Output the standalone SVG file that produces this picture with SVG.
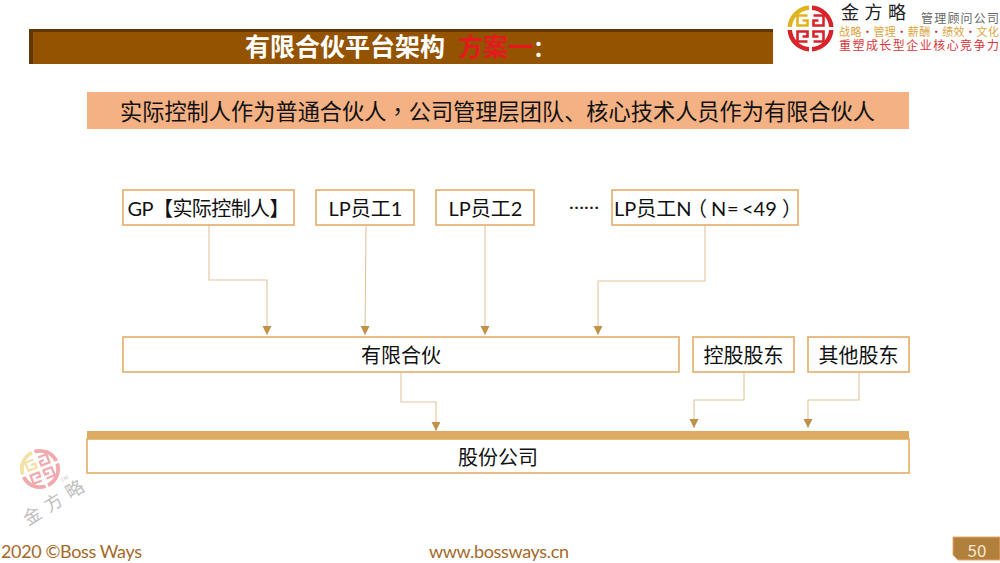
<svg xmlns="http://www.w3.org/2000/svg" width="1000" height="563" viewBox="0 0 1000 563">
<style>
text{font-family:"Noto Sans CJK SC","Noto Sans",sans-serif;}
.n{fill:#fff;stroke:#e5b26f;stroke-width:1.7;}
.t{font-family:Lato,"Noto Sans CJK SC",sans-serif;font-size:20px;fill:#111;text-anchor:middle;}
.s{font-family:Lato,"Noto Sans CJK SC",sans-serif;font-size:20px;fill:#111;}
.tc{font-family:"Noto Sans CJK TC",sans-serif;}
.c{fill:none;stroke:#e3c49c;stroke-width:1.1;marker-end:url(#a);}
.foot{font-family:Lato,"Noto Sans",sans-serif;font-size:18px;fill:#a5682a;}
.red{fill:none;stroke:#d8232a;stroke-width:2.600;}
.yel{fill:none;stroke:#e0b21e;stroke-width:2.600;}
.b{fill:#d8232a;}
</style>
<defs>
<marker id="a" markerUnits="userSpaceOnUse" markerWidth="10" markerHeight="10" refX="9" refY="4.500" orient="auto"><path d="M0 0L9 4.500L0 9Z" fill="#c0914b"/></marker>
<g id="logo">
<path d="M-23 -1.500A23 23 0 0 1 -1.500 -23V-18.500A18.500 18.500 0 0 0 -18.500 -1.500Z" fill="#e0b21e"/>
<path d="M1.500 -23A23 23 0 0 1 23 -1.500H18.500A18.500 18.500 0 0 0 1.500 -18.500ZM23 1.500A23 23 0 0 1 1.500 23V18.500A18.500 18.500 0 0 0 18.500 1.500ZM-1.500 23A23 23 0 0 1 -23 1.500H-18.500A18.500 18.500 0 0 0 -1.500 18.500Z" fill="#d8232a"/>
<path class="yel" d="M-3 -13H-13V-3H-3V-8H-8"/>
<path class="red" d="M3 -13H13V-3H3V-8H8M3 13H13V3H3V8H8M-3 13H-13V3H-3V8H-8"/>
</g>
</defs>

<g id="title">
<rect x="29" y="29" width="744" height="35" fill="#935300"/>
<path d="M29 29H773V32H33V64H29Z" fill="#5f3700"/>
<text x="245" y="56" font-size="25" font-weight="700" fill="#fff">有限合伙平台架构</text>
<text x="458" y="56" font-size="25" font-weight="700" fill="#e3191f">方案一</text>
<text x="533" y="56" font-size="22" font-weight="700" fill="#fff">：</text>
</g>

<g id="brand">
<use href="#logo" x="810.500" y="28.500"/>
<text x="841" y="19" font-size="18" fill="#222" textLength="65">金方略</text>
<text x="921" y="23" font-size="12" fill="#666" textLength="78">管理顾问公司</text>
<text x="839" y="36" font-size="11" fill="#d9a441" textLength="160">战略<tspan class="b">•</tspan>管理<tspan class="b">•</tspan>薪酬<tspan class="b">•</tspan>绩效<tspan class="b">•</tspan>文化</text>
<text x="839" y="50" font-size="12" fill="#d8363a" textLength="160">重塑成长型企业核心竞争力</text>
</g>

<g id="subtitle">
<rect x="87" y="92" width="822" height="37" fill="#f4b183"/>
<text x="120" y="120" font-size="22.200" fill="#111" textLength="755">实际控制人作为普通合伙人<tspan class="tc">，</tspan>公司管理层团队、核心技术人员作为有限合伙人</text>
</g>

<g id="connectors">
<path class="c" d="M209 225V280H267V335"/>
<path class="c" d="M366 225L365 335"/>
<path class="c" d="M485 225V335"/>
<path class="c" d="M705 225V281H598V335"/>
<path class="c" d="M401 372V402H436V431"/>
<path class="c" d="M744 372V400H694V428"/>
<path class="c" d="M859 372V400H808V428"/>
</g>

<g id="gp"><rect class="n" x="123" y="190" width="171" height="35"/><text class="t" x="208.500" y="216" textLength="162">GP【实际控制人】</text></g>
<g id="lp1"><rect class="n" x="316" y="190" width="98" height="35"/><text class="t" x="365.500" y="216">LP员工1</text></g>
<g id="lp2"><rect class="n" x="436" y="190" width="98" height="35"/><text class="t" x="485.500" y="216">LP员工2</text></g>
<g id="dots"><text class="t" x="584" y="209">……</text></g>
<g id="lpn"><rect class="n" x="612" y="190" width="186" height="35"/><text class="s" y="216"><tspan x="614">LP员工N</tspan><tspan class="tc" x="687">（</tspan><tspan x="711">N</tspan><tspan x="727">=</tspan><tspan x="742">&lt;49</tspan><tspan class="tc" x="782">）</tspan></text></g>
<g id="partnership"><rect class="n" x="123" y="337" width="556" height="35"/><text class="t" x="401" y="363">有限合伙</text></g>
<g id="holder"><rect class="n" x="693" y="337" width="101" height="35"/><text class="t" x="743.500" y="363">控股股东</text></g>
<g id="others"><rect class="n" x="808" y="337" width="101" height="35"/><text class="t" x="858.500" y="363">其他股东</text></g>
<g id="company">
<rect class="n" x="87" y="439" width="822" height="34"/>
<rect x="87" y="431" width="822" height="8" fill="#deab62"/>
<text class="t" x="498" y="465">股份公司</text>
</g>

<g id="watermark" opacity="0.38">
<use href="#logo" transform="translate(40 469) rotate(-22) scale(.87)"/>
<text x="0" y="0" transform="translate(28 526) rotate(-32)" font-size="18" fill="#555" textLength="68">金方略</text>
<text x="0" y="0" transform="translate(62 483) rotate(-32)" font-size="6" fill="#777" font-family="Lato,sans-serif">TM</text>
</g>

<g id="footer">
<text class="foot" x="1" y="558" textLength="141">2020 ©Boss Ways</text>
<text class="foot" x="429" y="558" textLength="140">www.bossways.cn</text>
<path d="M953 537H1000V560H958L953 555Z" fill="#b0803c" stroke="#eda666" stroke-width="1"/>
<text x="977" y="556.500" font-size="17" fill="#f5e8d4" text-anchor="middle" font-family="Lato,sans-serif">50</text>
</g>
</svg>
